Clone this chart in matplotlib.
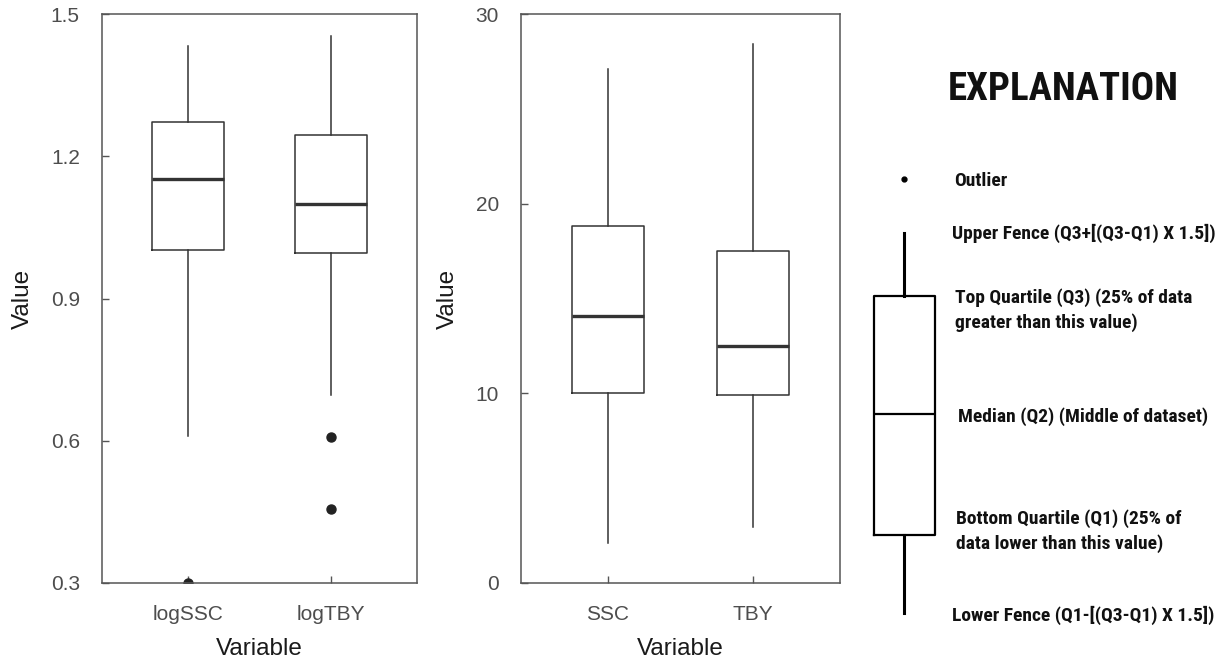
import matplotlib
matplotlib.use("Agg")
import matplotlib.pyplot as plt
from matplotlib import font_manager as fm

# box statistics
log_vars = ["logSSC", "logTBY"]
log_whislo = [0.61, 0.697]
log_q1 = [1.003, 0.996]
log_med = [1.151, 1.099]
log_q3 = [1.273, 1.244]
log_whishi = [1.433, 1.454]
log_fliers = [[0.301], [0.607, 0.457]]

raw_vars = ["SSC", "TBY"]
raw_whislo = [2.1, 2.95]
raw_q1 = [10.0, 9.9]
raw_med = [14.1, 12.5]
raw_q3 = [18.8, 17.5]
raw_whishi = [27.1, 28.4]
raw_fliers = [[], []]

log_ticks = [0.3, 0.6, 0.9, 1.2, 1.5]
raw_ticks = [0, 10, 20, 30]

# explanation schematic (drawn in an axes whose units are pixels)
expl_stats = dict(whislo=613, q1=535, med=414, q3=296, whishi=233, fliers=[179])
expl_labels = ["Outlier",
               "Upper Fence (Q3+[(Q3-Q1) X 1.5])",
               "Top Quartile (Q3) (25% of data\ngreater than this value)",
               "Median (Q2) (Middle of dataset)",
               "Bottom Quartile (Q1) (25% of\ndata lower than this value)",
               "Lower Fence (Q1-[(Q3-Q1) X 1.5])"]
expl_label_x = [954, 952, 955, 958, 956, 952]
expl_label_y = [181, 233, 310, 417, 531, 615]

plt.rcParams['font.family'] = ['Liberation Sans', 'DejaVu Sans']

# condensed bold face for the explanation, if one is around
have = {f.name for f in fm.fontManager.ttflist}
narrow = None
for cand in ["Roboto Condensed", "Liberation Sans Narrow", "Archivo Narrow",
             "Asap Condensed"]:
    if cand in have:
        narrow = cand
        break
if narrow:
    head_font, head_size, lab_size = [narrow, 'DejaVu Sans'], 28, 14
else:
    head_font, head_size, lab_size = ['DejaVu Sans'], 21, 9.5

W, H = 1229, 666
fig = plt.figure(figsize=(W / 100, H / 100), dpi=100)

tick_col = "#4d4d4d"
spine_col = "#555555"
box_col = "#333333"


def make_stats(labels, lo, q1, med, q3, hi, fl):
    return [dict(label=labels[i], whislo=lo[i], q1=q1[i], med=med[i],
                 q3=q3[i], whishi=hi[i], fliers=fl[i]) for i in range(len(labels))]


def draw_panel(ax, stats, ticks, ylim, fmt):
    ax.bxp(stats, positions=[1, 2], widths=0.5, showcaps=False,
           boxprops=dict(color=box_col, linewidth=1.1),
           whiskerprops=dict(color=box_col, linewidth=1.1),
           medianprops=dict(color=box_col, linewidth=2.4),
           flierprops=dict(marker="o", markerfacecolor="#222222",
                           markeredgecolor="#222222", markersize=6.5))
    ax.set_xlim(0.4, 2.6)
    ax.set_ylim(*ylim)
    ax.set_yticks(ticks)
    ax.set_yticklabels([fmt.format(t) for t in ticks])
    ax.set_xticks([1, 2])
    ax.set_xticklabels([s["label"] for s in stats])
    ax.tick_params(direction="in", length=5, width=1.0, color=spine_col,
                   labelsize=15, labelcolor=tick_col, pad=16)
    for sp in ax.spines.values():
        sp.set_color(spine_col)
        sp.set_linewidth(1.1)
    ax.set_xlabel("Variable", fontsize=17.5, color="#1a1a1a", labelpad=10)
    ax.set_ylabel("Value", fontsize=17.5, color="#1a1a1a", labelpad=12)


ax1 = fig.add_axes([102 / W, (H - 583) / H, 315 / W, 569 / H])
draw_panel(ax1, make_stats(log_vars, log_whislo, log_q1, log_med, log_q3,
                           log_whishi, log_fliers),
           log_ticks, (0.3, 1.5), "{:.1f}")

ax2 = fig.add_axes([521 / W, (H - 583) / H, 319 / W, 569 / H])
draw_panel(ax2, make_stats(raw_vars, raw_whislo, raw_q1, raw_med, raw_q3,
                           raw_whishi, raw_fliers),
           raw_ticks, (0, 30), "{:d}")

# explanation panel
ax3 = fig.add_axes([850 / W, 0, (W - 850) / W, 1])
ax3.set_xlim(850, W)
ax3.set_ylim(H, 0)
ax3.axis("off")
ax3.bxp([expl_stats], positions=[904], widths=61, showcaps=False,
        boxprops=dict(color="black", linewidth=1.6),
        whiskerprops=dict(color="black", linewidth=2.2),
        medianprops=dict(color="black", linewidth=1.6),
        flierprops=dict(marker="o", markerfacecolor="black",
                        markeredgecolor="black", markersize=3.5))
ax3.text(948, 90, "EXPLANATION", fontsize=head_size, fontweight="bold",
         family=head_font, ha="left", va="center", color="#111111")
for lab, x, y in zip(expl_labels, expl_label_x, expl_label_y):
    ax3.text(x, y, lab, fontsize=lab_size, fontweight="bold",
             family=head_font, ha="left", va="center", linespacing=1.45,
             color="#111111")

fig.savefig("out.png", dpi=100)
